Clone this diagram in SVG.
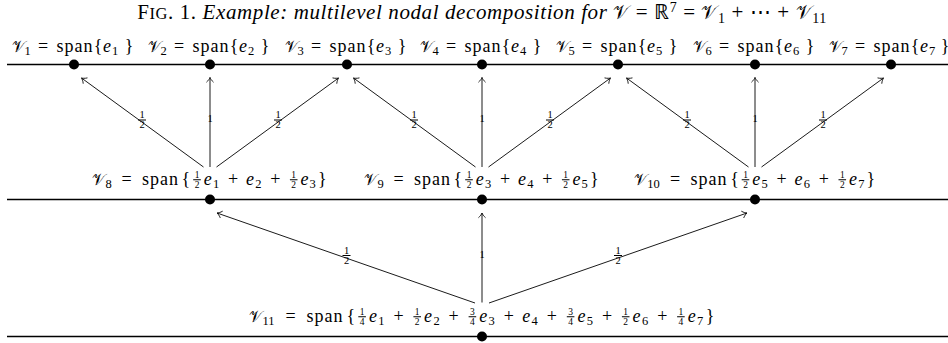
<svg xmlns="http://www.w3.org/2000/svg" width="948" height="343" viewBox="0 0 948 343">
<style>
.lv{stroke:#000;stroke-width:1.4}
.dot{fill:#000}
.lb{font-family:"Liberation Serif",serif;font-size:18px;fill:#000}
.cal{font-family:"DejaVu Serif","DejaVu Sans",serif;font-size:16px}
.calT{font-family:"DejaVu Serif","DejaVu Sans",serif;font-size:18.5px}
.it{font-style:italic}
.sb{font-size:12.5px}
.fn{font-size:9.5px}
.sp{letter-spacing:1px}
.bar{stroke:#000;stroke-width:1.1;fill:none}
.ar{stroke:#000;stroke-width:0.9;fill:none;marker-end:url(#tip)}
.el{font-family:"Liberation Serif",serif;font-size:10.5px;fill:#000}
.ttl{font-family:"Liberation Serif",serif;font-size:21px;letter-spacing:0.6px;fill:#000}
</style>
<defs>
<marker id="tip" markerUnits="userSpaceOnUse" markerWidth="7" markerHeight="10" viewBox="-6 -5 7 10" refX="0" refY="0" orient="auto" overflow="visible">
<path d="M-4.5,-3.3 C-3,-1.5 -1,-0.4 0,0 C-1,0.4 -3,1.5 -4.5,3.3" fill="none" stroke="#000" stroke-width="0.8" stroke-linecap="round"/>
</marker>
</defs>
<rect width="948" height="343" fill="#fff"/>
<text class="ttl" x="482" y="19" text-anchor="middle">F<tspan font-size="16.5px">IG</tspan>. 1. <tspan class="it">Example: multilevel nodal decomposition for</tspan> <tspan class="calT">𝒱</tspan> = ℝ<tspan font-size="14px" dy="-7">7</tspan><tspan dy="7"> = </tspan><tspan class="calT">𝒱</tspan><tspan font-size="14px" dy="4">1</tspan><tspan dy="-4"> + ⋯ + </tspan><tspan class="calT">𝒱</tspan><tspan font-size="14px" dy="4">11</tspan></text>
<g id="levels">
<line class="lv" x1="7" y1="64.5" x2="948" y2="64.5"/>
<line class="lv" x1="7" y1="199.5" x2="948" y2="199.5"/>
<line class="lv" x1="7" y1="336.5" x2="948" y2="336.5"/>
</g>
<g id="n1"><circle class="dot" cx="74" cy="64.5" r="5"/><text class="lb" text-anchor="middle"><tspan class="cal" x="18" y="51.5">𝒱</tspan><tspan class="sb" x="27.5" y="54.5">1</tspan><tspan x="43" y="51.5">=</tspan><tspan class="sp" x="75" y="51.5">span</tspan><tspan x="98" y="51.5">{</tspan><tspan class="it" x="107" y="51.5">e</tspan><tspan class="sb" x="115" y="54.5">1</tspan><tspan x="129" y="51.5">}</tspan></text></g>
<g id="n2"><circle class="dot" cx="210" cy="64.5" r="5"/><text class="lb" text-anchor="middle"><tspan class="cal" x="154" y="51.5">𝒱</tspan><tspan class="sb" x="163.5" y="54.5">2</tspan><tspan x="179" y="51.5">=</tspan><tspan class="sp" x="211" y="51.5">span</tspan><tspan x="234" y="51.5">{</tspan><tspan class="it" x="243" y="51.5">e</tspan><tspan class="sb" x="251" y="54.5">2</tspan><tspan x="265" y="51.5">}</tspan></text></g>
<g id="n3"><circle class="dot" cx="347" cy="64.5" r="5"/><text class="lb" text-anchor="middle"><tspan class="cal" x="291" y="51.5">𝒱</tspan><tspan class="sb" x="300.5" y="54.5">3</tspan><tspan x="316" y="51.5">=</tspan><tspan class="sp" x="348" y="51.5">span</tspan><tspan x="371" y="51.5">{</tspan><tspan class="it" x="380" y="51.5">e</tspan><tspan class="sb" x="388" y="54.5">3</tspan><tspan x="402" y="51.5">}</tspan></text></g>
<g id="n4"><circle class="dot" cx="482" cy="64.5" r="5"/><text class="lb" text-anchor="middle"><tspan class="cal" x="426" y="51.5">𝒱</tspan><tspan class="sb" x="435.5" y="54.5">4</tspan><tspan x="451" y="51.5">=</tspan><tspan class="sp" x="483" y="51.5">span</tspan><tspan x="506" y="51.5">{</tspan><tspan class="it" x="515" y="51.5">e</tspan><tspan class="sb" x="523" y="54.5">4</tspan><tspan x="537" y="51.5">}</tspan></text></g>
<g id="n5"><circle class="dot" cx="618" cy="64.5" r="5"/><text class="lb" text-anchor="middle"><tspan class="cal" x="562" y="51.5">𝒱</tspan><tspan class="sb" x="571.5" y="54.5">5</tspan><tspan x="587" y="51.5">=</tspan><tspan class="sp" x="619" y="51.5">span</tspan><tspan x="642" y="51.5">{</tspan><tspan class="it" x="651" y="51.5">e</tspan><tspan class="sb" x="659" y="54.5">5</tspan><tspan x="673" y="51.5">}</tspan></text></g>
<g id="n6"><circle class="dot" cx="755" cy="64.5" r="5"/><text class="lb" text-anchor="middle"><tspan class="cal" x="699" y="51.5">𝒱</tspan><tspan class="sb" x="708.5" y="54.5">6</tspan><tspan x="724" y="51.5">=</tspan><tspan class="sp" x="756" y="51.5">span</tspan><tspan x="779" y="51.5">{</tspan><tspan class="it" x="788" y="51.5">e</tspan><tspan class="sb" x="796" y="54.5">6</tspan><tspan x="810" y="51.5">}</tspan></text></g>
<g id="n7"><circle class="dot" cx="891" cy="64.5" r="5"/><text class="lb" text-anchor="middle"><tspan class="cal" x="835" y="51.5">𝒱</tspan><tspan class="sb" x="844.5" y="54.5">7</tspan><tspan x="860" y="51.5">=</tspan><tspan class="sp" x="892" y="51.5">span</tspan><tspan x="915" y="51.5">{</tspan><tspan class="it" x="924" y="51.5">e</tspan><tspan class="sb" x="932" y="54.5">7</tspan><tspan x="945" y="51.5">}</tspan></text></g>
<g id="n8"><circle class="dot" cx="210" cy="199.5" r="5"/><text class="lb" text-anchor="middle"><tspan class="cal" x="98.7" y="185">𝒱</tspan><tspan class="sb" x="108.5" y="188">8</tspan><tspan x="126.6" y="185">=</tspan><tspan class="sp" x="160.5" y="185">span</tspan><tspan x="185.9" y="185">{</tspan><tspan class="fn" x="197" y="178">1</tspan><tspan class="fn" x="197" y="188">2</tspan><tspan class="it" x="207.7" y="185">e</tspan><tspan class="sb" x="216" y="188">1</tspan><tspan x="233" y="185">+</tspan><tspan class="it" x="250.1" y="185">e</tspan><tspan class="sb" x="258.4" y="188">2</tspan><tspan x="275.3" y="185">+</tspan><tspan class="fn" x="293.7" y="178">1</tspan><tspan class="fn" x="293.7" y="188">2</tspan><tspan class="it" x="304.5" y="185">e</tspan><tspan class="sb" x="312.7" y="188">3</tspan><tspan x="322.4" y="185">}</tspan></text><path class="bar" d="M193.2 179.8h7.6M289.9 179.8h7.6"/></g>
<g id="n9"><circle class="dot" cx="482" cy="199.5" r="5"/><text class="lb" text-anchor="middle"><tspan class="cal" x="370.7" y="185">𝒱</tspan><tspan class="sb" x="380.5" y="188">9</tspan><tspan x="398.6" y="185">=</tspan><tspan class="sp" x="432.5" y="185">span</tspan><tspan x="457.9" y="185">{</tspan><tspan class="fn" x="469" y="178">1</tspan><tspan class="fn" x="469" y="188">2</tspan><tspan class="it" x="479.7" y="185">e</tspan><tspan class="sb" x="488" y="188">3</tspan><tspan x="505" y="185">+</tspan><tspan class="it" x="522.1" y="185">e</tspan><tspan class="sb" x="530.4" y="188">4</tspan><tspan x="547.3" y="185">+</tspan><tspan class="fn" x="565.7" y="178">1</tspan><tspan class="fn" x="565.7" y="188">2</tspan><tspan class="it" x="576.5" y="185">e</tspan><tspan class="sb" x="584.7" y="188">5</tspan><tspan x="594.4" y="185">}</tspan></text><path class="bar" d="M465.2 179.8h7.6M561.9 179.8h7.6"/></g>
<g id="n10"><circle class="dot" cx="755" cy="199.5" r="5"/><text class="lb" text-anchor="middle"><tspan class="cal" x="640.2" y="185">𝒱</tspan><tspan class="sb" x="653.5" y="188">10</tspan><tspan x="675.1" y="185">=</tspan><tspan class="sp" x="709" y="185">span</tspan><tspan x="734.5" y="185">{</tspan><tspan class="fn" x="745.5" y="178">1</tspan><tspan class="fn" x="745.5" y="188">2</tspan><tspan class="it" x="756.3" y="185">e</tspan><tspan class="sb" x="764.5" y="188">5</tspan><tspan x="781.5" y="185">+</tspan><tspan class="it" x="798.6" y="185">e</tspan><tspan class="sb" x="806.9" y="188">6</tspan><tspan x="823.9" y="185">+</tspan><tspan class="fn" x="842.3" y="178">1</tspan><tspan class="fn" x="842.3" y="188">2</tspan><tspan class="it" x="853" y="185">e</tspan><tspan class="sb" x="861.3" y="188">7</tspan><tspan x="870.9" y="185">}</tspan></text><path class="bar" d="M741.7 179.8h7.6M838.5 179.8h7.6"/></g>
<g id="n11"><circle class="dot" cx="482" cy="336.5" r="5"/><text class="lb" text-anchor="middle"><tspan class="cal" x="255.2" y="322">𝒱</tspan><tspan class="sb" x="268.6" y="325">11</tspan><tspan x="290.6" y="322">=</tspan><tspan class="sp" x="325" y="322">span</tspan><tspan x="350.8" y="322">{</tspan><tspan class="fn" x="362.1" y="315">1</tspan><tspan class="fn" x="362.1" y="325">4</tspan><tspan class="it" x="372.9" y="322">e</tspan><tspan class="sb" x="381.3" y="325">1</tspan><tspan x="398.6" y="322">+</tspan><tspan class="fn" x="417.2" y="315">1</tspan><tspan class="fn" x="417.2" y="325">2</tspan><tspan class="it" x="428.1" y="322">e</tspan><tspan class="sb" x="436.5" y="325">2</tspan><tspan x="453.7" y="322">+</tspan><tspan class="fn" x="472.4" y="315">3</tspan><tspan class="fn" x="472.4" y="325">4</tspan><tspan class="it" x="483.3" y="322">e</tspan><tspan class="sb" x="491.7" y="325">3</tspan><tspan x="508.9" y="322">+</tspan><tspan class="it" x="526.3" y="322">e</tspan><tspan class="sb" x="534.7" y="325">4</tspan><tspan x="551.9" y="322">+</tspan><tspan class="fn" x="570.6" y="315">3</tspan><tspan class="fn" x="570.6" y="325">4</tspan><tspan class="it" x="581.5" y="322">e</tspan><tspan class="sb" x="589.9" y="325">5</tspan><tspan x="607.1" y="322">+</tspan><tspan class="fn" x="625.7" y="315">1</tspan><tspan class="fn" x="625.7" y="325">2</tspan><tspan class="it" x="636.6" y="322">e</tspan><tspan class="sb" x="645" y="325">6</tspan><tspan x="662.3" y="322">+</tspan><tspan class="fn" x="680.9" y="315">1</tspan><tspan class="fn" x="680.9" y="325">4</tspan><tspan class="it" x="691.8" y="322">e</tspan><tspan class="sb" x="700.2" y="325">7</tspan><tspan x="710" y="322">}</tspan></text><path class="bar" d="M358.3 316.8h7.6M413.4 316.8h7.6M468.6 316.8h7.6M566.8 316.8h7.6M621.9 316.8h7.6M677.1 316.8h7.6"/></g>
<g id="connectors">
<line class="ar" x1="203.5" y1="167" x2="81.5" y2="78"/>
<line class="ar" x1="210" y1="167" x2="210" y2="77.5"/>
<line class="ar" x1="216.5" y1="167" x2="338.5" y2="78"/>
<line class="ar" x1="475.5" y1="167" x2="353.5" y2="78"/>
<line class="ar" x1="482" y1="167" x2="482" y2="77.5"/>
<line class="ar" x1="488.5" y1="167" x2="610.5" y2="78"/>
<line class="ar" x1="748.5" y1="167" x2="626.5" y2="78"/>
<line class="ar" x1="755" y1="167" x2="755" y2="77.5"/>
<line class="ar" x1="761.5" y1="167" x2="883.5" y2="78"/>
<line class="ar" x1="475" y1="303" x2="217" y2="213"/>
<line class="ar" x1="482" y1="302.5" x2="482" y2="213"/>
<line class="ar" x1="489" y1="303" x2="747" y2="213"/>
</g>
<g id="edge-labels">
<text class="el" text-anchor="middle"><tspan x="142" y="118">1</tspan><tspan x="142" y="128.2">2</tspan><tspan x="210" y="121.6">1</tspan><tspan x="278" y="118">1</tspan><tspan x="278" y="128.2">2</tspan><tspan x="414" y="118">1</tspan><tspan x="414" y="128.2">2</tspan><tspan x="482" y="121.6">1</tspan><tspan x="550" y="118">1</tspan><tspan x="550" y="128.2">2</tspan><tspan x="687" y="118">1</tspan><tspan x="687" y="128.2">2</tspan><tspan x="755" y="121.6">1</tspan><tspan x="823" y="118">1</tspan><tspan x="823" y="128.2">2</tspan><tspan x="346.5" y="253.5">1</tspan><tspan x="346.5" y="263.7">2</tspan><tspan x="482" y="257.6">1</tspan><tspan x="618" y="253.5">1</tspan><tspan x="618" y="263.7">2</tspan></text>
<path class="bar" stroke-width="1.2" d="M138 120h8M274 120h8M410 120h8M546 120h8M683 120h8M819 120h8M342.5 255.5h8M614 255.5h8"/>
</g>
</svg>
